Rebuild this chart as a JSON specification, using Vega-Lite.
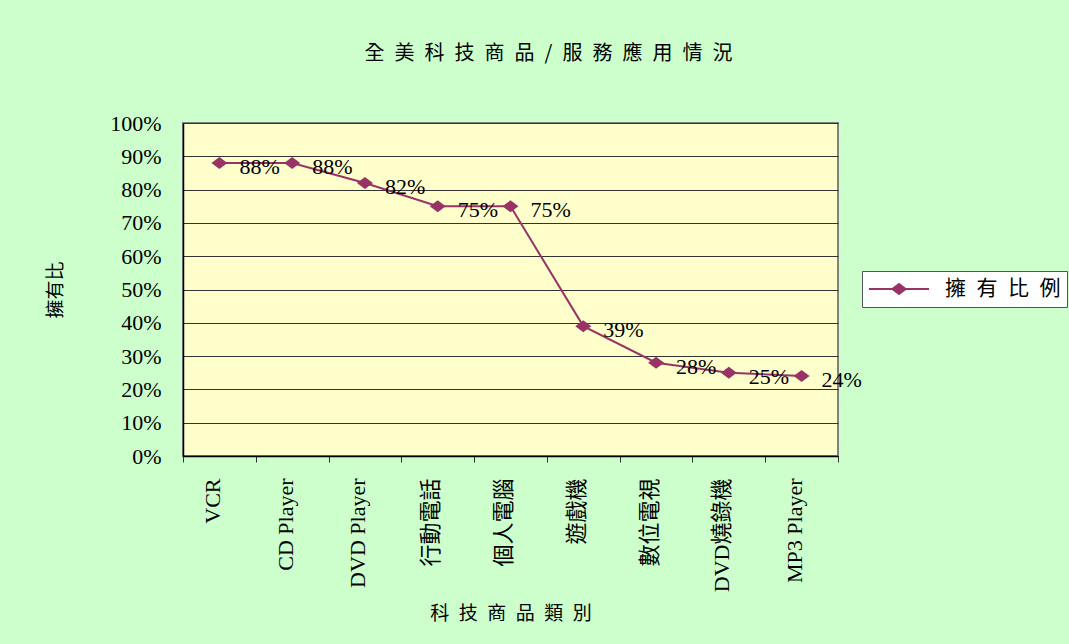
{
  "$schema": "https://vega.github.io/schema/vega-lite/v6.json",
  "width": 655,
  "height": 333,
  "autosize": {"type": "none"},
  "padding": {"left": 183, "top": 123, "right": 231, "bottom": 188},
  "background": "#CCFFCC",
  "title": {
    "text": "全\u2002美\u2002科\u2002技\u2002商\u2002品\u2002/\u2002服\u2002務\u2002應\u2002用\u2002情\u2002況",
    "anchor": "middle",
    "frame": "group",
    "offset": 48,
    "dx": 38,
    "font": "Noto Sans CJK TC",
    "fontSize": 20,
    "fontWeight": "normal",
    "color": "#000000"
  },
  "data": {
    "values": [
      {"item": "VCR", "share": 0.88},
      {"item": "CD Player", "share": 0.88},
      {"item": "DVD Player", "share": 0.82},
      {"item": "行動電話", "share": 0.75},
      {"item": "個人電腦", "share": 0.75},
      {"item": "遊戲機", "share": 0.39},
      {"item": "數位電視", "share": 0.28},
      {"item": "DVD燒錄機", "share": 0.25},
      {"item": "MP3 Player", "share": 0.24}
    ]
  },
  "encoding": {
    "x": {
      "field": "item",
      "type": "nominal",
      "sort": null,
      "scale": {"paddingInner": 0, "paddingOuter": 0},
      "axis": {
        "tickBand": "extent",
        "grid": false,
        "labelAngle": -90,
        "labelAlign": "right",
        "labelBaseline": "middle",
        "labelOffset": -7,
        "labelFont": "Liberation Serif, Noto Sans CJK TC",
        "labelFontSize": 22,
        "labelColor": "#000000",
        "labelPadding": 16,
        "tickSize": 6,
        "tickColor": "#333333",
        "domainColor": "#000000",
        "domainWidth": 1.5,
        "title": "科\u2002技\u2002商\u2002品\u2002類\u2002別",
        "titleFont": "Noto Sans CJK TC",
        "titleFontSize": 19,
        "titleFontWeight": "normal",
        "titleColor": "#000000",
        "titleY": 157,
        "titleBaseline": "middle"
      }
    },
    "y": {
      "field": "share",
      "type": "quantitative",
      "scale": {"domain": [0, 1]},
      "axis": {
        "values": [0, 0.1, 0.2, 0.3, 0.4, 0.5, 0.6, 0.7, 0.8, 0.9, 1],
        "format": ".0%",
        "grid": true,
        "gridColor": "#333333",
        "gridWidth": 1,
        "gridOpacity": 1,
        "ticks": false,
        "labelPadding": 22,
        "labelFont": "Liberation Serif",
        "labelFontSize": 22,
        "labelColor": "#000000",
        "domainColor": "#000000",
        "domainWidth": 1.5,
        "title": "擁有比",
        "titleFont": "Noto Sans CJK TC",
        "titleFontSize": 19,
        "titleFontWeight": "normal",
        "titleColor": "#000000",
        "titleX": -128,
        "titleBaseline": "middle"
      }
    }
  },
  "layer": [
    {
      "mark": {"type": "line", "interpolate": "linear", "strokeWidth": 2},
      "encoding": {
        "color": {
          "datum": "擁\u2002有\u2002比\u2002例",
          "scale": {"range": ["#993366"]},
          "legend": {
            "orient": "none",
            "legendX": 679,
            "legendY": 148,
            "title": null,
            "fillColor": "#FFFFFF",
            "strokeColor": "#555555",
            "padding": 6,
            "clipHeight": 24,
            "symbolType": "M-1,0H1M-0.22,0L0,-0.17L0.22,0L0,0.17Z",
            "symbolSize": 3600,
            "symbolStrokeWidth": 2,
            "symbolFillColor": "#993366",
            "symbolStrokeColor": "#993366",
            "labelFont": "Noto Sans CJK TC",
            "labelFontSize": 21,
            "labelColor": "#000000",
            "labelOffset": 15
          }
        }
      }
    },
    {
      "mark": {"type": "point", "shape": "M-1,0L0,-0.75L1,0L0,0.75Z", "filled": true, "size": 256, "opacity": 1},
      "encoding": {
        "color": {"datum": "擁\u2002有\u2002比\u2002例"}
      }
    },
    {
      "mark": {"type": "text", "align": "left", "baseline": "middle", "dx": 20, "dy": 4, "font": "Liberation Serif", "fontSize": 22, "color": "#000000"},
      "encoding": {
        "text": {"field": "share", "type": "quantitative", "format": ".0%"}
      }
    }
  ],
  "config": {
    "view": {"fill": "#FFFFCC", "stroke": "#808080", "strokeWidth": 2}
  }
}
